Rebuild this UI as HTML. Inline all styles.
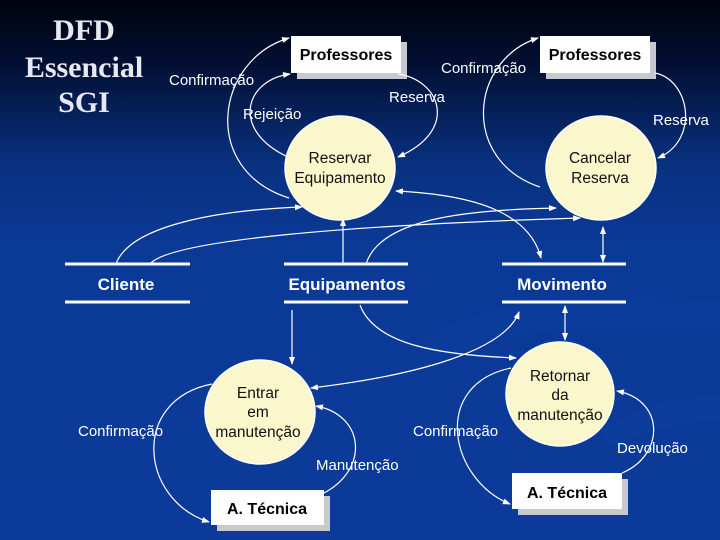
<!DOCTYPE html>
<html><head><meta charset="utf-8"><style>
html,body{margin:0;padding:0;width:720px;height:540px;overflow:hidden}
svg{display:block}
</style></head><body>
<svg width="720" height="540" viewBox="0 0 720 540" xmlns="http://www.w3.org/2000/svg" font-family="Liberation Sans, sans-serif">
<defs>
<linearGradient id="bg" x1="0" y1="0" x2="0" y2="1">
<stop offset="0" stop-color="#00030f"/>
<stop offset="0.12" stop-color="#021034"/>
<stop offset="0.3" stop-color="#08307e"/>
<stop offset="0.45" stop-color="#0b3996"/>
<stop offset="1" stop-color="#0b3a9a"/>
</linearGradient>
<marker id="a" markerWidth="8" markerHeight="8" refX="7" refY="4" orient="auto" markerUnits="userSpaceOnUse">
<path d="M0,1 L8,4 L0,7 z" fill="#fff"/></marker>
<marker id="s" markerWidth="8" markerHeight="8" refX="1" refY="4" orient="auto" markerUnits="userSpaceOnUse">
<path d="M8,1 L0,4 L8,7 z" fill="#fff"/></marker>
</defs>
<rect width="720" height="540" fill="url(#bg)"/>
<path d="M420,340 C520,280 680,300 720,300 L720,330 C660,325 520,320 440,360 Z" fill="#1144a6" opacity="0.3"/>
<path d="M600,430 C650,400 700,395 720,395 L720,420 C690,420 650,430 610,445 Z" fill="#1144a6" opacity="0.3"/>

<g style="font-family:'Liberation Serif',serif" font-weight="bold" font-size="30" fill="#e8e8f0" text-anchor="middle">
<text x="84" y="40">DFD</text><text x="84" y="77">Essencial</text><text x="84" y="112">SGI</text></g>

<g>
<rect x="297" y="42" width="110" height="37" fill="#c8c8d0"/><rect x="291" y="36" width="110" height="37" fill="#fff"/>
<rect x="546" y="42" width="110" height="37" fill="#c8c8d0"/><rect x="540" y="36" width="110" height="37" fill="#fff"/>
<rect x="217" y="496" width="113" height="35" fill="#c8c8d0"/><rect x="211" y="490" width="113" height="35" fill="#fff"/>
<rect x="518" y="479" width="110" height="36" fill="#c8c8d0"/><rect x="512" y="473" width="110" height="36" fill="#fff"/>
</g>
<g font-weight="bold" font-size="16" fill="#000" text-anchor="middle">
<text x="346" y="60">Professores</text><text x="595" y="60">Professores</text>
<text x="267" y="514">A.  Técnica</text><text x="567" y="498">A.  Técnica</text></g>

<g fill="#fbf7cc" stroke="#fff" stroke-width="1.5">
<ellipse cx="340" cy="168" rx="55" ry="52"/>
<ellipse cx="601" cy="168" rx="55" ry="52"/>
<ellipse cx="260" cy="412" rx="55" ry="52"/>
<ellipse cx="560" cy="394" rx="54" ry="52"/>
</g>
<g font-size="15.5" fill="#111" text-anchor="middle">
<text x="340" y="163">Reservar</text><text x="340" y="183">Equipamento</text>
<text x="600" y="163">Cancelar</text><text x="600" y="183">Reserva</text>
<text x="258" y="398">Entrar</text><text x="258" y="417">em</text><text x="258" y="437">manutenção</text>
<text x="560" y="381">Retornar</text><text x="560" y="400">da</text><text x="560" y="420">manutenção</text>
</g>

<g stroke="#fff" stroke-width="3">
<line x1="65" y1="264" x2="190" y2="264"/><line x1="65" y1="302" x2="190" y2="302"/>
<line x1="284" y1="264" x2="408" y2="264"/><line x1="284" y1="302" x2="408" y2="302"/>
<line x1="502" y1="264" x2="626" y2="264"/><line x1="502" y1="302" x2="626" y2="302"/>
</g>
<g font-weight="bold" font-size="17" fill="#fff" text-anchor="middle">
<text x="126" y="290">Cliente</text><text x="347" y="290">Equipamentos</text><text x="562" y="290">Movimento</text></g>

<g fill="none" stroke="#fff" stroke-width="1.2">
<path d="M289,198 C200,170 215,60 289,38" marker-end="url(#a)"/>
<path d="M288,157 C230,130 245,80 290,74" marker-end="url(#a)"/>
<path d="M398,74 C440,80 460,130 398,157" marker-end="url(#a)"/>
<path d="M540,187 C460,160 470,60 538,38" marker-end="url(#a)"/>
<path d="M655,73 C690,80 700,140 658,158" marker-end="url(#a)"/>
<path d="M116,264 C130,225 220,210 302,207" marker-end="url(#a)"/>
<path d="M150,264 C170,240 350,225 580,218" marker-end="url(#a)"/>
<path d="M343,264 L343,219" marker-end="url(#a)"/>
<path d="M366,264 C380,220 460,210 556,208" marker-end="url(#a)"/>
<path d="M396,191 C480,195 530,215 541,258" marker-start="url(#s)" marker-end="url(#a)"/>
<path d="M603,227 L603,262" marker-start="url(#s)" marker-end="url(#a)"/>
<path d="M292,310 L292,364" marker-end="url(#a)"/>
<path d="M360,305 C375,345 440,355 516,358" marker-end="url(#a)"/>
<path d="M311,388 C420,375 505,350 519,312" marker-start="url(#s)" marker-end="url(#a)"/>
<path d="M565,306 L565,340" marker-start="url(#s)" marker-end="url(#a)"/>
<path d="M212,384 C130,400 140,500 209,522" marker-end="url(#a)"/>
<path d="M322,494 C370,470 365,415 316,406" marker-end="url(#a)"/>
<path d="M511,368 C430,385 450,480 510,504" marker-end="url(#a)"/>
<path d="M622,473 C665,455 665,400 617,391" marker-end="url(#a)"/>
</g>

<g font-size="15" fill="#fff">
<text x="169" y="85">Confirmação</text>
<text x="243" y="119">Rejeição</text>
<text x="389" y="102">Reserva</text>
<text x="441" y="73">Confirmação</text>
<text x="653" y="125">Reserva</text>
<text x="78" y="436">Confirmação</text>
<text x="316" y="470">Manutenção</text>
<text x="413" y="436">Confirmação</text>
<text x="617" y="453">Devolução</text>
</g>
</svg>
</body></html>
